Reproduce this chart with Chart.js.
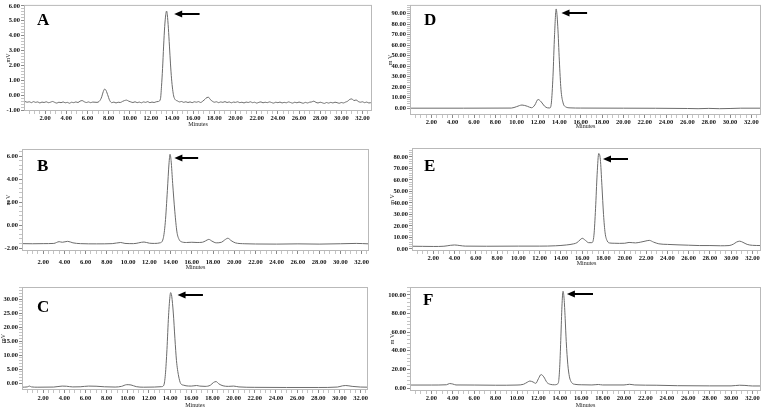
<!DOCTYPE html>
<html>
<head>
<meta charset="utf-8">
<title>HPLC chromatograms A-F</title>
<script src="https://cdn.jsdelivr.net/npm/chart.js"></script>
<style>
  body { margin: 0; background: #fff; }
  #fig { position: relative; width: 763px; height: 409px; background: #fff; overflow: hidden; }
  #fig canvas { position: absolute; }
</style>
</head>
<body>
<div id="fig">
  <canvas id="chartA"></canvas>
  <canvas id="chartB"></canvas>
  <canvas id="chartC"></canvas>
  <canvas id="chartD"></canvas>
  <canvas id="chartE"></canvas>
  <canvas id="chartF"></canvas>
</div>
<script>
// --- data (time in minutes, signal in mV) ---
const xTickLabels = [2, 4, 6, 8, 10, 12, 14, 16, 18, 20, 22, 24, 26, 28, 30, 32];

const timeA = [0.1, 0.3, 0.5, 0.7, 0.9, 1.1, 1.3, 1.5, 1.7, 1.9, 2.1, 2.3, 2.5, 2.7, 2.9, 3.1, 3.3, 3.5, 3.7, 3.9,
  4.1, 4.3, 4.5, 4.7, 4.9, 5.1, 5.3, 5.5, 5.7, 5.9, 6.1, 6.3, 6.5, 6.9, 7.1, 7.3, 7.5, 7.6, 7.7, 7.9,
  8.1, 8.3, 8.5, 8.7, 8.9, 9.1, 9.3, 9.5, 9.7, 9.9, 10.1, 10.3, 10.5, 10.7, 10.9, 11.1, 11.3, 11.5, 11.7, 11.9,
  12.1, 12.3, 12.5, 12.7, 12.9, 13.0, 13.1, 13.2, 13.3, 13.4, 13.48, 13.55, 13.65, 13.75, 13.85, 13.95, 14.05, 14.15, 14.3, 14.5,
  14.7, 14.9, 15.1, 15.3, 15.5, 15.7, 15.9, 16.1, 16.3, 16.5, 16.7, 16.9, 17.1, 17.3, 17.45, 17.6, 17.8, 18.0, 18.2, 18.4,
  18.6, 18.8, 19.0, 19.2, 19.4, 19.6, 19.8, 20.0, 20.2, 20.4, 20.6, 20.8, 21.0, 21.2, 21.4, 21.6, 21.8, 22.0, 22.2, 22.4,
  22.6, 22.8, 23.0, 23.2, 23.4, 23.6, 23.8, 24.0, 24.2, 24.4, 24.6, 24.8, 25.0, 25.2, 25.4, 25.6, 25.8, 26.0, 26.2, 26.4,
  26.6, 26.8, 27.0, 27.2, 27.4, 27.6, 27.8, 28.0, 28.2, 28.4, 28.6, 28.8, 29.0, 29.2, 29.4, 29.6, 29.8, 30.0, 30.2, 30.4,
  30.6, 30.8, 31.0, 31.2, 31.4, 31.6, 31.8, 32.0, 32.2, 32.4, 32.6, 32.9];
const signalA = [-0.42, -0.47, -0.44, -0.50, -0.43, -0.48, -0.45, -0.52, -0.46, -0.49, -0.44, -0.50, -0.47, -0.42, -0.48, -0.53, -0.47, -0.50, -0.45, -0.51,
  -0.48, -0.54, -0.47, -0.50, -0.45, -0.49, -0.40, -0.36, -0.44, -0.49, -0.45, -0.50, -0.46, -0.48, -0.42, -0.20, 0.25, 0.40, 0.38, 0.05,
  -0.35, -0.50, -0.46, -0.52, -0.47, -0.49, -0.42, -0.36, -0.33, -0.40, -0.45, -0.49, -0.44, -0.50, -0.46, -0.51, -0.45, -0.48, -0.43, -0.50,
  -0.46, -0.49, -0.44, -0.42, -0.25, 0.6, 1.8, 3.3, 4.6, 5.4, 5.65, 5.4, 4.5, 3.3, 2.1, 1.1, 0.4, -0.05, -0.30, -0.38,
  -0.45, -0.42, -0.48, -0.44, -0.49, -0.45, -0.50, -0.44, -0.47, -0.43, -0.49, -0.40, -0.28, -0.15, -0.14, -0.28, -0.40, -0.47, -0.44, -0.50,
  -0.45, -0.48, -0.43, -0.49, -0.45, -0.51, -0.46, -0.48, -0.44, -0.50, -0.47, -0.52, -0.46, -0.49, -0.44, -0.50, -0.47, -0.53, -0.48, -0.45,
  -0.51, -0.47, -0.50, -0.45, -0.49, -0.53, -0.47, -0.50, -0.46, -0.52, -0.48, -0.51, -0.45, -0.49, -0.53, -0.47, -0.51, -0.46, -0.50, -0.54,
  -0.48, -0.52, -0.47, -0.45, -0.40, -0.48, -0.52, -0.47, -0.51, -0.55, -0.49, -0.53, -0.48, -0.52, -0.47, -0.50, -0.54, -0.49, -0.52, -0.46,
  -0.40, -0.28, -0.25, -0.36, -0.32, -0.42, -0.47, -0.44, -0.50, -0.46, -0.52, -0.48];

const timeB = [0.0, 1.0, 2.0, 3.0, 3.5, 3.8, 4.3, 4.8, 5.5, 7.0, 8.5, 9.3, 9.7, 10.5, 11.5, 12.0, 12.5, 13.0, 13.3, 13.5,
  13.7, 13.85, 13.95, 14.05, 14.2, 14.4, 14.6, 14.8, 15.0, 15.5, 16.0, 16.5, 17.0, 17.3, 17.6, 17.9, 18.3, 18.8, 19.1, 19.4,
  19.7, 20.1, 21.0, 22.0, 24.0, 26.0, 28.0, 30.0, 31.5, 32.7];
const signalB = [-1.62, -1.63, -1.62, -1.60, -1.45, -1.50, -1.42, -1.55, -1.62, -1.64, -1.62, -1.52, -1.60, -1.62, -1.48, -1.58, -1.60, -1.55, -1.20, 0.20,
  3.0, 5.3, 6.15, 5.6, 3.6, 1.2, -0.6, -1.25, -1.45, -1.52, -1.50, -1.52, -1.50, -1.38, -1.25, -1.40, -1.55, -1.50, -1.30, -1.15,
  -1.35, -1.55, -1.63, -1.65, -1.66, -1.64, -1.66, -1.63, -1.60, -1.64];

const timeC = [0.0, 0.5, 0.7, 0.9, 1.5, 3.0, 3.8, 4.2, 4.8, 5.5, 6.3, 7.0, 7.8, 8.8, 9.4, 9.9, 10.3, 10.8, 11.5, 12.5,
  13.2, 13.4, 13.55, 13.7, 13.85, 14.0, 14.05, 14.15, 14.3, 14.45, 14.6, 14.8, 15.0, 15.3, 15.5, 16.0, 16.5, 16.8, 17.3, 17.8,
  18.1, 18.35, 18.6, 19.0, 19.5, 20.0, 20.5, 22.0, 25.0, 28.0, 29.8, 30.3, 30.6, 31.2, 32.0, 32.7];
const signalC = [-1.5, -1.4, -1.1, -1.4, -1.5, -1.45, -1.1, -1.15, -1.4, -1.35, -1.1, -1.15, -1.35, -1.45, -1.2, -0.6, -0.7, -1.3, -1.5, -1.45,
  -1.3, -0.8, 3, 12, 24, 31.5, 32.3, 31, 25, 16, 8, 2.5, -0.2, -0.8, -1.0, -1.1, -0.9, -1.1, -1.2, -0.8,
  0.2, 0.5, -0.3, -1.0, -1.2, -1.1, -1.4, -1.55, -1.6, -1.6, -1.45, -1.0, -0.9, -1.2, -1.45, -1.5];

const timeD = [0, 5, 9.5, 10.0, 10.5, 11.0, 11.4, 11.7, 12.0, 12.3, 12.6, 12.9, 13.1, 13.25, 13.4, 13.55, 13.7, 13.85, 14.0, 14.15,
  14.35, 14.6, 15.0, 16, 20, 26, 27, 28, 29, 30, 31, 32.9];
const signalD = [0, 0, 0.1, 1.5, 3.0, 1.8, 0.4, 3, 8.3, 6, 2, 0.3, 0.2, 5, 30, 70, 94.5, 78, 45, 18,
  5, 1.2, 0.3, 0.1, 0, -0.3, -0.5, -0.2, -0.5, -0.3, 0, 0];

const timeE = [0, 1, 2, 3, 3.6, 4.0, 4.5, 5, 7, 10, 12, 13.5, 14.5, 15.2, 15.5, 15.8, 16.0, 16.3, 16.6, 16.9,
  17.1, 17.25, 17.4, 17.55, 17.7, 17.85, 18.0, 18.15, 18.35, 18.6, 19, 19.5, 20.0, 20.4, 20.7, 21.0, 21.5, 21.9, 22.3, 22.7,
  23.2, 24, 25, 26, 27, 28, 29, 29.8, 30.2, 30.5, 30.8, 31.1, 31.5, 32, 32.8];
const signalE = [2.4, 2.3, 2.2, 2.4, 3.2, 3.5, 3.0, 2.5, 2.4, 2.5, 2.5, 2.8, 3.5, 4.5, 5.5, 8.0, 9.3, 7.5, 5.5, 5.5,
  12, 35, 65, 83, 78, 55, 30, 14, 7, 5.2, 5.0, 4.9, 5.0, 5.7, 5.5, 5.3, 6.0, 6.8, 7.5, 6.0,
  4.5, 4.0, 3.6, 3.3, 3.0, 3.0, 2.8, 3.0, 4.2, 6.0, 6.8, 5.8, 4.0, 3.2, 3.0];

const timeF = [0, 2, 3.4, 3.7, 4.0, 4.3, 6, 8, 9, 10.0, 10.6, 11.0, 11.2, 11.5, 11.75, 12.0, 12.25, 12.5, 12.8, 13.1,
  13.5, 13.8, 13.9, 14.0, 14.1, 14.2, 14.3, 14.4, 14.5, 14.6, 14.75, 14.9, 15.1, 15.4, 16, 17, 17.6, 18, 20, 20.5,
  21, 23, 25, 28, 30, 30.8, 31.3, 32, 32.8];
const signalF = [3.2, 3.2, 3.5, 4.8, 4.3, 3.3, 3.2, 3.0, 3.0, 3.2, 4.0, 6.5, 7.5, 6.5, 5.0, 10, 14.5, 12, 6, 4,
  3.5, 4.5, 8, 25, 55, 88, 104, 96, 75, 50, 25, 12, 6, 4, 3.5, 3.3, 3.8, 3.3, 3.3, 4.0,
  3.3, 3.0, 2.5, 2.3, 2.3, 3.0, 2.8, 2.2, 2.2];

const yTicksA = [-1, 0, 1, 2, 3, 4, 5, 6];
const yTicksB = [-2, 0, 2, 4, 6];
const yTicksC = [0, 5, 10, 15, 20, 25, 30];
const yTicksD = [0, 10, 20, 30, 40, 50, 60, 70, 80, 90];
const yTicksE = [0, 10, 20, 30, 40, 50, 60, 70, 80];
const yTicksF = [0, 20, 40, 60, 80, 100];

// --- layout ---
const SERIF = "'Liberation Serif', 'Times New Roman', serif";
const near = (list, v) => list.some(t => Math.abs(t - v) < 1e-6);

function buildPanel(id, p) {
  const canvas = document.getElementById(id);
  canvas.width = p.box.w;
  canvas.height = p.box.h;
  canvas.style.left = p.box.left + 'px';
  canvas.style.top = p.box.top + 'px';

  const xMinor = [];
  for (let k = 1; k * 0.5 < p.xMax; k++) xMinor.push(k * 0.5);
  const yMinor = [];
  for (let v = p.yTicks[0]; v <= p.yMax + 1e-9; v += p.yStep) yMinor.push(+v.toFixed(4));

  const frame = {
    id: 'frame',
    afterDraw(chart) {
      const { ctx, chartArea: a, scales: { x, y } } = chart;
      ctx.save();
      ctx.strokeStyle = '#b9b9b9';
      ctx.lineWidth = 1;
      ctx.strokeRect(a.left + 0.5, a.top + 0.5, a.right - a.left - 1, a.bottom - a.top - 1);

      ctx.fillStyle = '#000';
      ctx.font = 'bold 17px ' + SERIF;
      ctx.textBaseline = 'alphabetic';
      ctx.fillText(p.letter, a.left + p.letterAt[0], a.top + p.letterAt[1]);

      // arrow pointing at the main peak
      const hx = x.getPixelForValue(p.arrow[0]);
      const tx = x.getPixelForValue(p.arrow[1]);
      const ay = Math.round(y.getPixelForValue(p.arrow[2]));
      ctx.strokeStyle = '#000';
      ctx.lineWidth = 2;
      ctx.beginPath(); ctx.moveTo(hx + 6, ay); ctx.lineTo(tx, ay); ctx.stroke();
      ctx.beginPath(); ctx.moveTo(hx, ay); ctx.lineTo(hx + 8, ay - 3.5); ctx.lineTo(hx + 8, ay + 3.5); ctx.closePath(); ctx.fill();
      ctx.restore();
    }
  };

  const tickFont = { family: SERIF, size: 6.5, weight: 'bold' };
  const titleFont = { family: SERIF, size: 6, lineHeight: 1.2 };

  return new Chart(canvas, {
    type: 'line',
    data: {
      datasets: [{
        data: p.times.map((t, i) => ({ x: t, y: p.values[i] })),
        borderColor: '#6b6b6b',
        borderWidth: 1,
        pointRadius: 0,
        cubicInterpolationMode: 'monotone',
        fill: false
      }]
    },
    options: {
      responsive: false,
      animation: false,
      events: [],
      layout: { padding: { left: 0, bottom: 0, top: p.plot.t - p.box.top, right: p.box.left + p.box.w - p.plot.r } },
      plugins: { legend: { display: false }, tooltip: { enabled: false } },
      scales: {
        x: {
          type: 'linear', min: 0, max: p.xMax,
          afterBuildTicks: s => { s.ticks = xMinor.map(v => ({ value: v })); },
          afterFit: s => { s.height = p.box.top + p.box.h - p.plot.b; },
          border: { display: false },
          grid: { drawOnChartArea: false, tickLength: 3, tickColor: c => near(xTickLabels, c.tick.value) ? '#8a8a8a' : '#c4c4c4' },
          ticks: {
            autoSkip: false, maxRotation: 0, minRotation: 0, padding: p.xPad, color: '#111', font: tickFont,
            callback: v => near(xTickLabels, v) ? v.toFixed(2) : ''
          },
          title: { display: true, text: 'Minutes', color: '#222', font: titleFont, padding: { top: 0, bottom: p.minutesPad } }
        },
        y: {
          type: 'linear', min: p.yMin, max: p.yMax,
          afterBuildTicks: s => { s.ticks = yMinor.map(v => ({ value: v })); },
          afterFit: s => { s.width = p.plot.l - p.box.left; },
          border: { display: false },
          grid: { drawOnChartArea: false, tickLength: 3, tickColor: c => near(p.yTicks, c.tick.value) ? '#8a8a8a' : '#c4c4c4' },
          ticks: {
            autoSkip: false, padding: 1, color: '#111', font: tickFont,
            callback: v => near(p.yTicks, v) ? v.toFixed(2) : ''
          },
          title: { display: true, text: p.yTitle, color: '#222', font: titleFont, padding: { top: p.mvPad, bottom: 0 } }
        }
      }
    },
    plugins: [frame]
  });
}

buildPanel('chartA', {
  box: { left: 0, top: 0, w: 382, h: 135 }, plot: { l: 24, t: 2, r: 372, b: 111 },
  xMax: 32.9, yMin: -1.06, yMax: 6.065, yTicks: yTicksA, yStep: 0.2,
  times: timeA, values: signalA, letter: 'A', letterAt: [13, 20], arrow: [14.2, 16.6, 5.48],
  yTitle: 'mV', mvPad: 4.4, xPad: 0.5, minutesPad: 7.4
});
buildPanel('chartD', {
  box: { left: 385, top: 0, w: 378, h: 135 }, plot: { l: 410, t: 2, r: 761, b: 115 },
  xMax: 32.9, yMin: -6.5, yMax: 98.35, yTicks: yTicksD, yStep: 2,
  times: timeD, values: signalD, letter: 'D', letterAt: [14, 20], arrow: [14.2, 16.6, 90.9],
  yTitle: 'm V', mvPad: 1.4, xPad: 0, minutesPad: 4.7
});
buildPanel('chartB', {
  box: { left: 0, top: 135, w: 382, h: 140 }, plot: { l: 22, t: 149, r: 369, b: 251 },
  xMax: 32.7, yMin: -2.26, yMax: 6.61, yTicks: yTicksB, yStep: 0.4,
  times: timeB, values: signalB, letter: 'B', letterAt: [15, 22], arrow: [14.36, 16.6, 5.83],
  yTitle: 'm V', mvPad: 4.7, xPad: 4.2, minutesPad: 4.4
});
buildPanel('chartE', {
  box: { left: 385, top: 135, w: 378, h: 140 }, plot: { l: 412, t: 148, r: 761, b: 251 },
  xMax: 32.8, yMin: -1.74, yMax: 87.8, yTicks: yTicksE, yStep: 2,
  times: timeE, values: signalE, letter: 'E', letterAt: [12, 23], arrow: [17.95, 20.3, 78.3],
  yTitle: 'm V', mvPad: 4.1, xPad: 0.2, minutesPad: 8.4
});
buildPanel('chartC', {
  box: { left: 0, top: 275, w: 382, h: 134 }, plot: { l: 22, t: 287, r: 368, b: 390 },
  xMax: 32.7, yMin: -2.5, yMax: 34.3, yTicks: yTicksC, yStep: 1,
  times: timeC, values: signalC, letter: 'C', letterAt: [15, 25], arrow: [14.7, 17.1, 31.4],
  yTitle: 'mV', mvPad: 0, xPad: 1.5, minutesPad: 0.4
});
buildPanel('chartF', {
  box: { left: 385, top: 275, w: 378, h: 134 }, plot: { l: 410, t: 287, r: 761, b: 391 },
  xMax: 32.8, yMin: -3.2, yMax: 108.6, yTicks: yTicksF, yStep: 4,
  times: timeF, values: signalF, letter: 'F', letterAt: [13, 18], arrow: [14.66, 17.1, 101],
  yTitle: 'm V', mvPad: 4.1, xPad: 0, minutesPad: 0.4
});
</script>
</body>
</html>
